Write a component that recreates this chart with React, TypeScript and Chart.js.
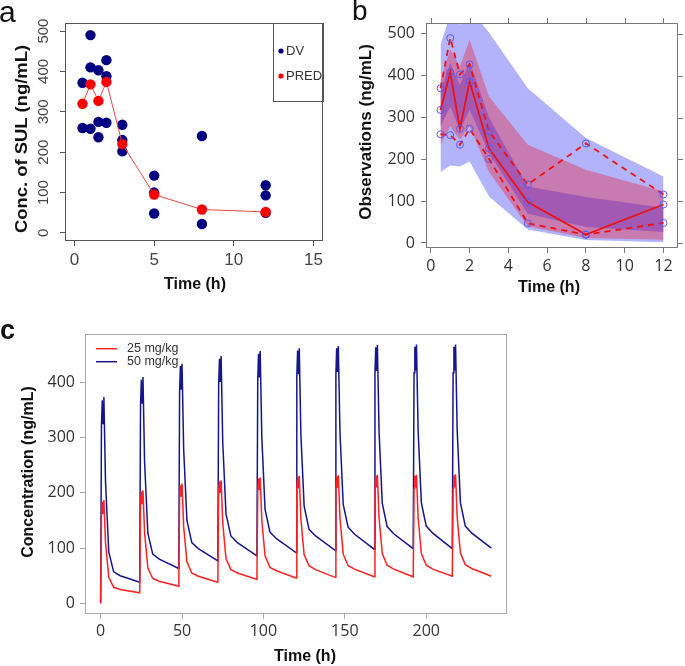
import React, { useEffect, useRef } from "react";
import { Chart, registerables } from "chart.js";
Chart.register(...registerables);

// ---------------- Panel a : observed (DV) and predicted (PRED) ----------------
const dvTime = [0.5, 0.5, 1, 1, 1, 1.5, 1.5, 1.5, 2, 2, 2, 3, 3, 3, 5, 5, 5, 8, 8, 12, 12, 12];
const dvConc = [372, 260, 490, 410, 258, 403, 275, 237, 428, 388, 273, 268, 230, 202, 142, 100, 48, 240, 22, 118, 93, 50];
const predTime = [0.5, 1, 1.5, 2, 3, 5, 8, 12];
const predConc = [320, 368, 327, 374, 220, 95, 58, 52];
const aXTicks = [0, 5, 10, 15];
const aYTicks = [0, 100, 200, 300, 400, 500];
const aLegend = ["DV", "PRED"];

// ---------------- Panel b : VPC ----------------
const vpcTime = [0.5, 1, 1.5, 2, 3, 5, 8, 12];
const obsMedian = [318, 408, 273, 386, 226, 98, 20, 92];
const obsUpper = [370, 490, 403, 427, 267, 140, 238, 116];
const obsLower = [260, 258, 235, 273, 201, 47, 20, 48];
const outerHi = [475, 545, 522, 560, 503, 370, 251, 159];
const outerLo = [170, 185, 183, 195, 111, 32, 7, 2];
const medCIHi = [390, 462, 422, 486, 350, 235, 175, 123];
const medCILo = [235, 279, 247, 279, 170, 40, 12, 8];
const innerHi = [366, 430, 378, 434, 300, 135, 110, 84];
const innerLo = [279, 326, 271, 318, 215, 70, 38, 26];
const bXTicks = [0, 2, 4, 6, 8, 10, 12];
const bYTicks = [0, 100, 200, 300, 400, 500];

// ---------------- Panel c : multiple dose simulation ----------------
const doseTimes = [0, 24, 48, 72, 96, 120, 144, 168, 192, 216];
const sampleOffsets = [0.5, 1, 1.5, 2, 3, 5, 8, 12, 24];
const conc25Start = 0;
const conc50Start = 0;
const conc25 = [
  [160, 184, 163, 187, 110, 47, 29, 25, 19],
  [179, 203, 181, 205, 128, 64, 45, 40, 31],
  [191, 214, 193, 217, 139, 75, 55, 49, 38],
  [198, 221, 200, 223, 146, 81, 61, 55, 43],
  [203, 226, 205, 228, 150, 86, 65, 59, 46],
  [206, 229, 208, 231, 153, 88, 68, 61, 47],
  [207, 230, 209, 232, 154, 89, 68, 62, 48],
  [208, 231, 210, 233, 155, 90, 69, 62, 48],
  [208, 231, 210, 233, 155, 90, 69, 62, 49],
  [209, 232, 211, 234, 156, 91, 70, 63, 49],
];
const conc50 = [
  [320, 368, 326, 374, 220, 93, 57, 50, 38],
  [358, 405, 363, 410, 256, 127, 89, 80, 63],
  [382, 430, 387, 434, 279, 150, 110, 99, 77],
  [396, 443, 401, 448, 292, 162, 122, 110, 86],
  [405, 452, 409, 457, 301, 170, 129, 117, 92],
  [411, 458, 415, 462, 306, 176, 134, 122, 96],
  [415, 462, 419, 466, 310, 179, 138, 125, 98],
  [417, 464, 421, 468, 312, 181, 139, 126, 99],
  [418, 465, 422, 469, 313, 182, 140, 127, 99],
  [418, 465, 422, 469, 313, 182, 140, 127, 100],
];
const cXTicks = [0, 50, 100, 150, 200];
const cYTicks = [0, 100, 200, 300, 400];
const cLegend = ["25 mg/kg", "50 mg/kg"];

// ---------------- helpers ----------------
type Box = { w: number; h: number; left: number; top: number; right: number; bottom: number };

function pts(xs: number[], ys: number[]) {
  return xs.map((x, i) => ({ x, y: ys[i] }));
}

function simSeries(start: number, cycles: number[][]) {
  const out = [{ x: 0, y: start }];
  doseTimes.forEach((d, ci) => {
    sampleOffsets.forEach((o, oi) => out.push({ x: d + o, y: cycles[ci][oi] }));
  });
  return out;
}

function axis(
  box: Box,
  dir: "x" | "y",
  min: number,
  max: number,
  ticks: number[],
  gridColor: string,
  tickFont: any,
  tickColor: string,
  pad: number
) {
  return {
    type: "linear",
    position: dir === "x" ? "bottom" : "left",
    min,
    max,
    afterBuildTicks: (s: any) => {
      s.ticks = ticks.map((v) => ({ value: v }));
    },
    afterFit: (s: any) => {
      if (dir === "x") s.height = box.h - box.bottom;
      else s.width = box.left;
    },
    grid: { display: true, drawOnChartArea: false, drawTicks: true, tickLength: 5, color: gridColor, lineWidth: 1 },
    border: { display: false },
    ticks: { font: tickFont, color: tickColor, padding: pad, maxRotation: 0, autoSkip: false },
    title: { display: false },
  };
}

function layoutFor(box: Box) {
  return { autoPadding: false, padding: { left: 0, top: box.top, right: box.w - box.right, bottom: 0 } };
}

function drawText(
  ctx: CanvasRenderingContext2D,
  text: string,
  x: number,
  y: number,
  font: string,
  color: string,
  rotate = false,
  stretch = 1,
  align: CanvasTextAlign = "center"
) {
  ctx.save();
  ctx.translate(x, y);
  if (rotate) ctx.rotate(-Math.PI / 2);
  ctx.scale(stretch, 1);
  ctx.font = font;
  ctx.fillStyle = color;
  ctx.textAlign = align;
  ctx.textBaseline = "middle";
  ctx.fillText(text, 0, 0);
  ctx.restore();
}

function frame(chart: any, color: string) {
  const { ctx, chartArea } = chart;
  ctx.save();
  ctx.strokeStyle = color;
  ctx.lineWidth = 1;
  ctx.strokeRect(chartArea.left + 0.5, chartArea.top + 0.5, chartArea.right - chartArea.left - 1, chartArea.bottom - chartArea.top - 1);
  ctx.restore();
}

const ARIAL = '"Liberation Sans", Arial, sans-serif';
const SEGOE = '"Open Sans", "Noto Sans", sans-serif';

// ---------------- Panel a ----------------
function makeA(canvas: HTMLCanvasElement) {
  const box: Box = { w: 340, h: 300, left: 65, top: 23, right: 323, bottom: 241 };
  return new Chart(canvas, {
    type: "scatter",
    data: {
      datasets: [
        {
          label: aLegend[1],
          data: pts(predTime, predConc),
          showLine: true,
          borderColor: "#ee4444",
          borderWidth: 1,
          pointRadius: 5.2,
          pointBackgroundColor: "#ff0000",
          pointBorderColor: "#ff0000",
          pointBorderWidth: 0,
          order: 1,
        },
        {
          label: aLegend[0],
          data: pts(dvTime, dvConc),
          showLine: false,
          pointRadius: 5.2,
          pointBackgroundColor: "#000080",
          pointBorderColor: "#000080",
          pointBorderWidth: 0,
          order: 2,
        },
      ],
    } as any,
    options: {
      animation: false,
      responsive: false,
      devicePixelRatio: 1,
      layout: layoutFor(box) as any,
      plugins: { legend: { display: false }, tooltip: { enabled: false } },
      scales: {
        x: axis(box, "x", -0.6, 15.6, aXTicks, "#555", { family: ARIAL, size: 17 }, "#444", 4) as any,
        y: axis(box, "y", -20, 520, aYTicks, "#555", { family: ARIAL, size: 15 }, "rgba(0,0,0,0)", 4) as any,
      },
    },
    plugins: [
      {
        id: "decorA",
        afterDraw(chart: any) {
          const ctx = chart.ctx;
          frame(chart, "#555");
          const ys = chart.scales.y;
          aYTicks.forEach((v) => drawText(ctx, String(v), 44, ys.getPixelForValue(v), `15px ${ARIAL}`, "#444", true));
          drawText(ctx, "Conc. of SUL (ng/mL)", 22.5, 139, `bold 16px ${ARIAL}`, "#111", true, 1.15);
          drawText(ctx, "Time (h)", 195, 285, `bold 16px ${ARIAL}`, "#111");
          ctx.save();
          ctx.font = `30px ${ARIAL}`;
          ctx.fillStyle = "#111";
          ctx.textBaseline = "alphabetic";
          ctx.fillText("a", -1, 22);
          ctx.restore();
          // legend box
          ctx.save();
          ctx.strokeStyle = "#555";
          ctx.lineWidth = 1;
          ctx.strokeRect(273.5, 23.5, 50, 78);
          const colors = ["#000080", "#ff0000"];
          const ly = [51, 76];
          aLegend.forEach((t, i) => {
            ctx.beginPath();
            ctx.fillStyle = colors[i];
            ctx.arc(281, ly[i], 2.6, 0, Math.PI * 2);
            ctx.fill();
            drawText(ctx, t, 286, ly[i] + 0.5, `13px ${ARIAL}`, "#333", false, 1, "left");
          });
          ctx.restore();
        },
      },
    ],
  } as any);
}

// ---------------- Panel b ----------------
function makeB(canvas: HTMLCanvasElement) {
  const box: Box = { w: 345, h: 300, left: 86, top: 23, right: 338, bottom: 248 };
  const band = (hi: number[], lo: number[], color: string, order: number) => [
    {
      data: pts(vpcTime, hi),
      borderWidth: 0,
      borderColor: "rgba(0,0,0,0)",
      pointRadius: 0,
      fill: "+1",
      backgroundColor: color,
      order,
    },
    {
      data: pts(vpcTime, lo),
      borderWidth: 0,
      borderColor: "rgba(0,0,0,0)",
      pointRadius: 0,
      fill: false,
      order,
    },
  ];
  const obsLine = (ys: number[], dashed: boolean, order: number) => ({
    data: pts(vpcTime, ys),
    borderColor: "#ee1111",
    borderWidth: 1.8,
    borderDash: dashed ? [6, 5] : [],
    pointRadius: 3.5,
    pointBorderColor: "#5a5af0",
    pointBackgroundColor: "rgba(0,0,0,0)",
    pointBorderWidth: 1,
    fill: false,
    order,
  });
  return new Chart(canvas, {
    type: "line",
    data: {
      datasets: [
        ...band(outerHi, outerLo, "#b3b3fb", 10),
        ...band(medCIHi, medCILo, "#c87bb0", 9),
        ...band(innerHi, innerLo, "#a259b3", 8),
        obsLine(obsUpper, true, 3),
        obsLine(obsLower, true, 3),
        obsLine(obsMedian, false, 2),
      ],
    } as any,
    options: {
      animation: false,
      responsive: false,
      devicePixelRatio: 1,
      layout: layoutFor(box) as any,
      plugins: { legend: { display: false }, tooltip: { enabled: false } },
      scales: {
        x: axis(box, "x", -0.25, 12.75, bXTicks, "#777", { family: SEGOE, size: 16 }, "#333", 4) as any,
        y: axis(box, "y", -12, 526, bYTicks, "#777", { family: SEGOE, size: 16 }, "#333", 6) as any,
      },
    },
    plugins: [
      {
        id: "decorB",
        afterDraw(chart: any) {
          const ctx = chart.ctx;
          const a = chart.chartArea;
          frame(chart, "#777");
          ctx.save();
          ctx.strokeStyle = "#777";
          ctx.lineWidth = 1;
          ctx.beginPath();
          bXTicks.forEach((v) => {
            const px = Math.round(chart.scales.x.getPixelForValue(v)) + 0.5;
            ctx.moveTo(px, a.top - 5);
            ctx.lineTo(px, a.top);
          });
          bYTicks.forEach((v) => {
            const py = Math.round(chart.scales.y.getPixelForValue(v)) + 0.5;
            ctx.moveTo(a.right, py);
            ctx.lineTo(a.right + 5, py);
          });
          ctx.stroke();
          ctx.restore();
          drawText(ctx, "Observations (ng/mL)", 26.7, 132, `bold 17px ${ARIAL}`, "#111", true);
          drawText(ctx, "Time (h)", 209, 288, `bold 16px ${ARIAL}`, "#111");
          ctx.save();
          ctx.font = `28px ${ARIAL}`;
          ctx.fillStyle = "#111";
          ctx.fillText("b", 12, 20);
          ctx.restore();
        },
      },
    ],
  } as any);
}

// ---------------- Panel c ----------------
function makeC(canvas: HTMLCanvasElement) {
  const box: Box = { w: 685, h: 366, left: 85, top: 34, right: 507, bottom: 314 };
  const colors = ["#ff2020", "#16168c"];
  return new Chart(canvas, {
    type: "line",
    data: {
      datasets: [
        {
          label: cLegend[0],
          data: simSeries(conc25Start, conc25),
          borderColor: colors[0],
          borderWidth: 1.5,
          pointRadius: 0,
          fill: false,
        },
        {
          label: cLegend[1],
          data: simSeries(conc50Start, conc50),
          borderColor: colors[1],
          borderWidth: 1.5,
          pointRadius: 0,
          fill: false,
        },
      ],
    } as any,
    options: {
      animation: false,
      responsive: false,
      devicePixelRatio: 1,
      layout: layoutFor(box) as any,
      plugins: { legend: { display: false }, tooltip: { enabled: false } },
      scales: {
        x: axis(box, "x", -9.6, 249.6, cXTicks, "#aaa", { family: SEGOE, size: 16 }, "#333", 3) as any,
        y: axis(box, "y", -19.4, 488, cYTicks, "#aaa", { family: SEGOE, size: 16 }, "#333", 5) as any,
      },
    },
    plugins: [
      {
        id: "decorC",
        afterDraw(chart: any) {
          const ctx = chart.ctx;
          frame(chart, "#aaa");
          const ly = [48.7, 61.7];
          cLegend.forEach((t, i) => {
            ctx.save();
            ctx.strokeStyle = colors[i];
            ctx.lineWidth = 1.5;
            ctx.beginPath();
            ctx.moveTo(96, ly[i]);
            ctx.lineTo(117, ly[i]);
            ctx.stroke();
            ctx.restore();
            drawText(ctx, t, 127, ly[i], `12.5px ${ARIAL}`, "#333", false, 1, "left");
          });
          drawText(ctx, "Concentration (ng/mL)", 29, 172, `bold 16px ${ARIAL}`, "#111", true);
          drawText(ctx, "Time (h)", 305, 357, `bold 16px ${ARIAL}`, "#111");
          ctx.save();
          ctx.font = `bold 27px ${ARIAL}`;
          ctx.fillStyle = "#111";
          ctx.fillText("c", 0, 39);
          ctx.restore();
        },
      },
    ],
  } as any);
}

export default function App() {
  const refA = useRef<HTMLCanvasElement>(null);
  const refB = useRef<HTMLCanvasElement>(null);
  const refC = useRef<HTMLCanvasElement>(null);
  useEffect(() => {
    const charts: Chart[] = [];
    if (refA.current) charts.push(makeA(refA.current));
    if (refB.current) charts.push(makeB(refB.current));
    if (refC.current) charts.push(makeC(refC.current));
    return () => charts.forEach((c) => c.destroy());
  }, []);
  return (
    <div style={{ position: "absolute", left: 0, top: 0, width: 685, height: 666, background: "#fff" }}>
      <canvas ref={refA} width={340} height={300} style={{ position: "absolute", left: 0, top: 0, width: 340, height: 300 }} />
      <canvas ref={refB} width={345} height={300} style={{ position: "absolute", left: 340, top: 0, width: 345, height: 300 }} />
      <canvas ref={refC} width={685} height={366} style={{ position: "absolute", left: 0, top: 300, width: 685, height: 366 }} />
    </div>
  );
}
